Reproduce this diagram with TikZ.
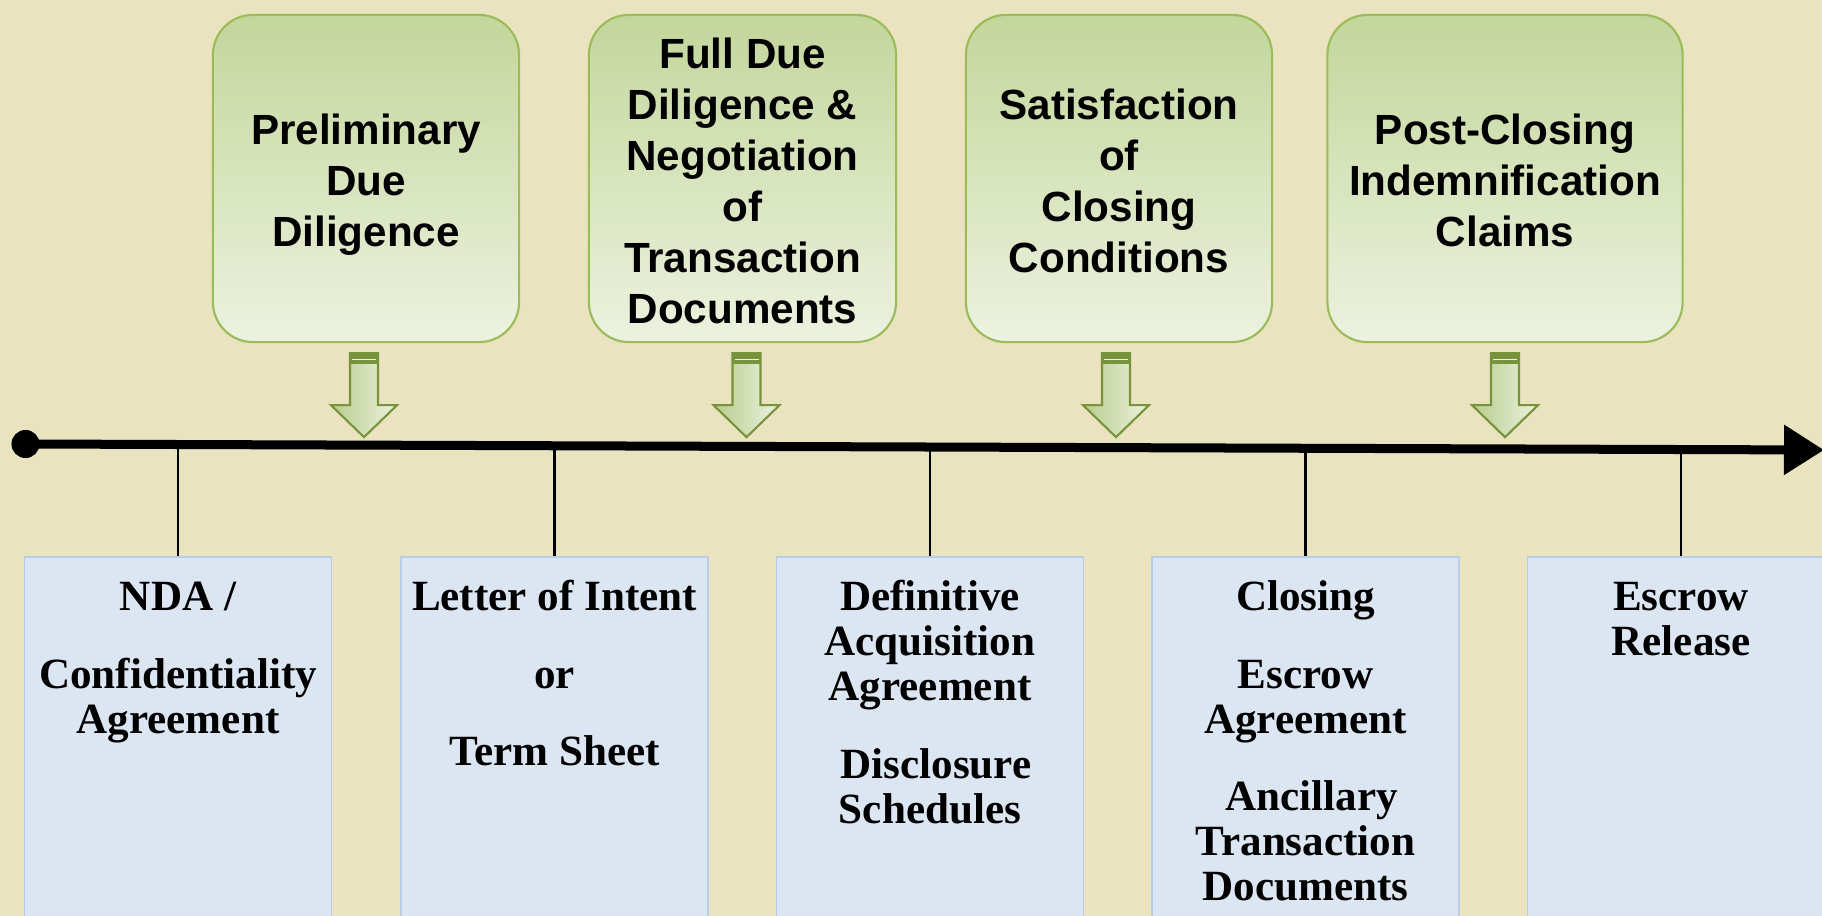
\documentclass[tikz,border=0pt]{standalone}
\usepackage{fontspec}
\setmainfont{Liberation Serif}
\newfontfamily\gsans{Liberation Sans}
\usetikzlibrary{arrows.meta}
\definecolor{bg}{RGB}{233,227,191}
\definecolor{gtop}{RGB}{195,214,155}
\definecolor{gbot}{RGB}{236,242,223}
\definecolor{gline}{RGB}{155,187,89}
\definecolor{aline}{RGB}{119,147,60}
\definecolor{bfill}{RGB}{220,230,242}
\definecolor{bline}{RGB}{185,205,229}
\newcommand\tstrut{\rule{0pt}{10pt}}
\newcommand\lead{\hspace*{3.4pt}}
\begin{document}
\begin{tikzpicture}[x=0.01cm,y=-0.01cm,
  greenbox/.style={draw=gline, line width=0.6pt, rounded corners=0.4cm, top color=gtop, bottom color=gbot, minimum height=3.27cm, inner sep=0pt},
  greentext/.style={font=\gsans\bfseries\fontsize{12}{14.5}\selectfont, align=center, anchor=north, inner sep=0pt},
  bluebox/.style={draw=bline, line width=0.45pt, fill=bfill, minimum width=3.07cm, minimum height=3.84cm, anchor=north, inner sep=0pt},
  bluetext/.style={font=\bfseries\fontsize{12.26}{12.8}\selectfont, align=center, anchor=north, inner sep=0pt},
  tick/.style={line width=0.75pt},
  timeline/.style={line width=0.09cm, -{Triangle[length=0.4cm,width=0.48cm]}},
  blockarrow/.pic={
    \path[left color=gtop!85!aline, right color=gbot, draw=aline, line width=0.6pt]
      (-14,0) -- (14,0) -- (14,52) -- (33,52) -- (0,84) -- (-33,52) -- (-14,52) -- cycle;
    \fill[aline] (-14,0) rectangle (14,11);
    \draw[gbot, line width=0.35pt] (-12,6) -- (12,6);
  }
]
\useasboundingbox (0,0) rectangle (1822,916);
\clip (0,0) rectangle (1822,916);
\fill[bg] (0,0) rectangle (1822,916);

% phase boxes
\node[greenbox, minimum width=3.06cm] (g1) at (366,178.5) {};
\node[greenbox, minimum width=3.07cm] (g2) at (742.5,178.5) {};
\node[greenbox, minimum width=3.06cm] (g3) at (1119,178.5) {};
\node[greenbox, minimum width=3.55cm] (g4) at (1505,178.5) {};
\node[greentext] (g1t) at (366,108.85) {\tstrut Preliminary\\Due\\Diligence};
\node[greentext] (g2t) at (742.5,32.35) {\tstrut Full Due\\Diligence \&\\Negotiation\\of\\Transaction\\Documents};
\node[greentext] (g3t) at (1119,83.35) {\tstrut Satisfaction\\of\\Closing\\Conditions};
\node[greentext] (g4t) at (1505,108.85) {\tstrut Post-Closing\\Indemnification\\Claims};

% block arrows
\path (g1.south) ++(-2,10) pic {blockarrow};
\path (g2.south) ++(4,10) pic {blockarrow};
\path (g3.south) ++(-3,10) pic {blockarrow};
\path (g4.south) ++(0,10) pic {blockarrow};

% timeline
\node[circle, fill=black, minimum size=0.28cm, inner sep=0pt] (start) at (25.5,444) {};
\coordinate (tlend) at (1824,450);
\draw[timeline] (start.center) -- (tlend);

% document boxes
\node[bluebox] (b1) at (178,556) {};
\node[bluebox] (b2) at (554.5,556) {};
\node[bluebox] (b3) at (930,556) {};
\node[bluebox] (b4) at (1305.5,556) {};
\node[bluebox] (b5) at (1681,556) {};

\coordinate (t1) at (178,444.5);
\coordinate (t2) at (554.5,445.8);
\coordinate (t3) at (930,447);
\coordinate (t4) at (1305.5,448.3);
\coordinate (t5) at (1681,449.5);
\draw[tick] (t1) -- (b1.north);
\draw[tick] (t2) -- (b2.north);
\draw[tick] (t3) -- (b3.north);
\draw[tick] (t4) -- (b4.north);
\draw[tick] (t5) -- (b5.north);

\node[bluetext] (b1t) at (178,574.85) {\tstrut NDA /\\[9.25pt]Confidentiality\\Agreement};
\node[bluetext] (b2t) at (554.5,574.85) {\tstrut Letter of Intent\\[9.25pt]or\\[9.25pt]Term Sheet};
\node[bluetext] (b3t) at (930,574.85) {\tstrut Definitive\\Acquisition\\Agreement\\[9.25pt]\lead Disclosure\\Schedules};
\node[bluetext] (b4t) at (1305.5,574.85) {\tstrut Closing\\[9.25pt]Escrow\\Agreement\\[9.25pt]\lead Ancillary\\Transaction\\Documents};
\node[bluetext] (b5t) at (1681,574.85) {\tstrut Escrow\\Release};
\end{tikzpicture}
\end{document}
